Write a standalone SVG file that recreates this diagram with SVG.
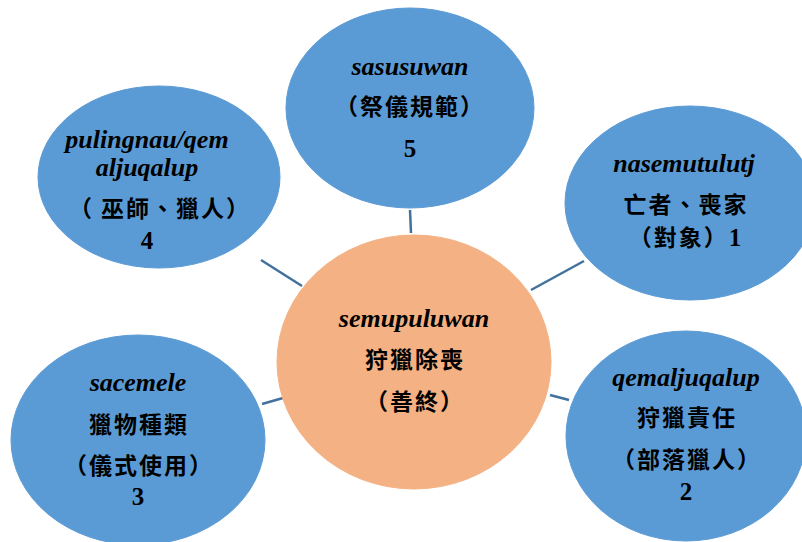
<svg xmlns="http://www.w3.org/2000/svg" width="802" height="542" viewBox="0 0 802 542">
<style>
.blue{fill:#5B9BD5;stroke:#5B9BD5;stroke-width:1}
.orange{fill:#F4B183;stroke:#F4B183;stroke-width:1}
.lat{font-family:"Liberation Serif","Noto Sans CJK TC",serif;font-weight:bold;font-style:italic;font-size:26px;fill:#000;text-anchor:middle}
.cjk{font-family:"Noto Sans CJK TC",serif;font-weight:bold;font-size:23px;letter-spacing:2px;fill:#000;text-anchor:middle}
.num{font-family:"Liberation Serif",serif;font-weight:bold;font-size:25px;fill:#000;text-anchor:middle}
.conn line{stroke:#41719C;stroke-width:2.5}
</style>
<rect width="802" height="542" fill="#fff"/>
<g class="conn" id="connectors">
<line x1="410" y1="210" x2="411" y2="233"/>
<line x1="261" y1="260" x2="302" y2="286"/>
<line x1="584" y1="261" x2="531" y2="290"/>
<line x1="262" y1="404" x2="283" y2="398"/>
<line x1="550" y1="395" x2="569" y2="400"/>
</g>
<g id="center">
<ellipse class="orange" cx="414" cy="362" rx="137" ry="127"/>
<text class="lat" x="414" y="327">semupuluwan</text>
<text class="cjk" x="415" y="368">狩獵除喪</text>
<text class="cjk" x="415" y="410">（善終）</text>
</g>
<g id="node5">
<ellipse class="blue" cx="410" cy="108" rx="124" ry="100"/>
<text class="lat" x="410" y="75">sasusuwan</text>
<text class="cjk" x="410" y="115">（祭儀規範）</text>
<text class="num" x="410" y="157">5</text>
</g>
<g id="node4">
<ellipse class="blue" cx="159" cy="177" rx="121" ry="91"/>
<text class="lat" x="147" y="148">pulingnau/qem</text>
<text class="lat" x="147" y="176">aljuqalup</text>
<text class="cjk" x="160" y="217">（ 巫師、獵人）</text>
<text class="num" x="147" y="249">4</text>
</g>
<g id="node1">
<ellipse class="blue" cx="690" cy="203" rx="125" ry="97"/>
<text class="lat" x="684" y="172">nasemutulutj</text>
<text class="cjk" x="686" y="213">亡者、喪家</text>
<text class="cjk" x="686" y="246">（對象）<tspan class="num" style="font-size:25px">1</tspan></text>
</g>
<g id="node3">
<ellipse class="blue" cx="138" cy="440" rx="127" ry="105"/>
<text class="lat" x="138" y="391">sacemele</text>
<text class="cjk" x="139" y="433">獵物種類</text>
<text class="cjk" x="139" y="474">（儀式使用）</text>
<text class="num" x="138" y="505">3</text>
</g>
<g id="node2">
<ellipse class="blue" cx="686" cy="436" rx="120" ry="105"/>
<text class="lat" x="686" y="386">qemaljuqalup</text>
<text class="cjk" x="687" y="426">狩獵責任</text>
<text class="cjk" x="687" y="468">（部落獵人）</text>
<text class="num" x="686" y="500">2</text>
</g>
</svg>
